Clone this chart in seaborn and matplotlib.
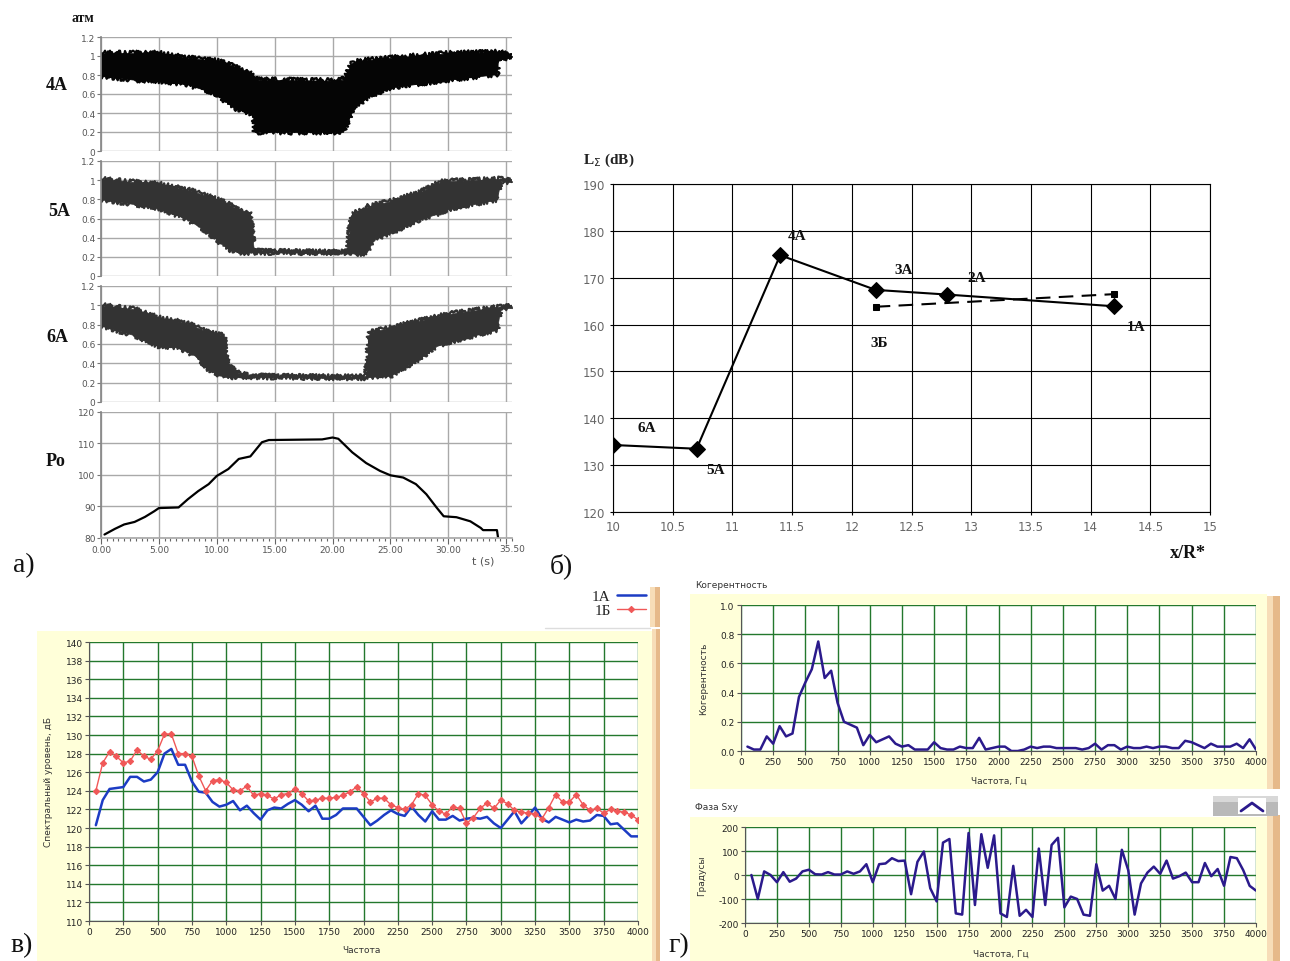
import matplotlib
matplotlib.use("Agg")
import matplotlib.pyplot as plt
from matplotlib.patches import Rectangle
from matplotlib.lines import Line2D
from matplotlib.ticker import MultipleLocator, FixedLocator, FuncFormatter
import pandas as pd
import seaborn as sns

W, H = 1290, 962

# ---------------- panel а: pressure envelopes and Po ----------------
t_4a = [0, 2.9, 5, 7.5, 10, 11.3, 11.6, 12.8, 13.2, 13.3, 13.6, 20.3, 20.9, 21.2, 21.7, 22, 23.2, 25, 30, 34.2, 34.3, 35.2, 35.5]
up_4a = [1.03, 1.03, 1.03, 0.98, 0.95, 0.90, 0.89, 0.82, 0.79, 0.78, 0.75, 0.74, 0.75, 0.80, 0.93, 0.94, 0.96, 0.98, 1.03, 1.04, 1.04, 1.02, 1.00]
lo_4a = [0.79, 0.75, 0.74, 0.70, 0.60, 0.47, 0.45, 0.40, 0.38, 0.20, 0.20, 0.20, 0.20, 0.28, 0.42, 0.47, 0.58, 0.67, 0.75, 0.81, 0.98, 0.98, 0.99]

t_5a = [0, 2.9, 5, 7.5, 9.3, 10, 11, 11.6, 12.2, 12.9, 13.2, 21.3, 21.6, 22, 22.9, 23.2, 23.5, 25, 27.5, 29.3, 30, 34.2, 34.5, 35.5]
up_5a = [1.01, 0.98, 0.96, 0.90, 0.83, 0.80, 0.75, 0.71, 0.68, 0.64, 0.26, 0.25, 0.63, 0.66, 0.72, 0.73, 0.74, 0.78, 0.87, 0.98, 0.99, 1.01, 1.02, 0.99]
lo_5a = [0.80, 0.75, 0.71, 0.59, 0.45, 0.38, 0.28, 0.26, 0.24, 0.245, 0.245, 0.245, 0.24, 0.23, 0.24, 0.30, 0.38, 0.45, 0.59, 0.66, 0.70, 0.80, 0.99, 0.98]

t_6a = [0, 2.9, 5, 6.4, 7.5, 8.1, 9.3, 10.4, 10.6, 10.9, 11.6, 12.8, 21.7, 22.9, 23.2, 25, 27.5, 29, 30, 34.2, 34.5, 35.5]
up_6a = [1.00, 0.96, 0.87, 0.84, 0.81, 0.78, 0.72, 0.69, 0.69, 0.41, 0.31, 0.27, 0.26, 0.27, 0.72, 0.77, 0.84, 0.88, 0.91, 0.98, 0.99, 0.99]
lo_6a = [0.79, 0.69, 0.58, 0.57, 0.52, 0.48, 0.34, 0.27, 0.26, 0.26, 0.26, 0.26, 0.25, 0.25, 0.26, 0.27, 0.45, 0.58, 0.62, 0.75, 0.98, 0.97]

po_t = [0.3, 1.2, 2, 2.9, 3.8, 4.6, 5, 6.7, 7.5, 8.4, 9.3, 10, 11, 11.9, 12.9, 13.9, 14.5, 19.1, 20, 20.5, 21.7, 22.9, 24.1, 25, 26.1, 27.2, 28.1, 29, 29.6, 30.7, 31.9, 32.8, 33, 34.2, 34.3]
po_val = [81.1, 82.9, 84.3, 85.1, 86.7, 88.5, 89.5, 89.7, 92.3, 94.9, 97.1, 99.7, 101.9, 105.1, 105.9, 110.4, 111.1, 111.3, 111.9, 111.5, 107.2, 103.8, 101.3, 99.9, 99.2, 97.1, 93.9, 89.6, 86.9, 86.6, 85.3, 83.2, 82.5, 82.5, 80.0]

# ---------------- panel б: overall level vs distance ----------------
pts_a_names = ["6A", "5A", "4A", "3A", "2A", "1A"]
pts_a_x = [10.0, 10.7, 11.4, 12.2, 12.8, 14.2]
pts_a_level = [134.3, 133.5, 174.8, 167.4, 166.4, 163.9]
pts_b_names = ["3Б", "1Б"]
pts_b_x = [12.2, 14.2]
pts_b_level = [163.8, 166.5]

# ---------------- panel в: spectra 1A / 1Б ----------------
freq = list(range(50, 4001, 50))
spec_1a = [120.3, 123.0, 124.2, 124.3, 124.4, 125.5, 125.5, 125.0, 125.2, 126.0,
           128.0, 128.5, 126.8, 126.8, 125.0, 123.9, 123.8, 122.8, 122.3, 122.5,
           122.9, 121.9, 122.4, 121.6, 120.9, 121.9, 122.2, 122.1, 122.6, 123.0,
           122.5, 121.8, 122.4, 121.0, 121.0, 121.4, 122.1, 122.1, 122.1, 121.2,
           120.3, 120.8, 121.4, 121.9, 121.5, 121.3, 122.3, 121.4, 120.7, 121.8,
           120.9, 120.9, 121.3, 120.8, 121.0, 121.1, 121.0, 121.2, 120.5, 120.0,
           120.9, 121.8, 120.5, 121.3, 122.2, 121.0, 120.6, 121.2, 120.9, 120.6,
           120.9, 120.7, 120.8, 121.4, 121.3, 120.4, 120.5, 119.8, 119.1, 119.1]
spec_1b = [124.0, 127.0, 128.2, 127.7, 127.0, 127.2, 128.4, 127.7, 127.4, 128.3,
           130.1, 130.1, 128.0, 128.0, 127.7, 125.6, 124.0, 125.1, 125.2, 124.9,
           124.1, 124.0, 124.5, 123.5, 123.7, 123.5, 123.1, 123.6, 123.7, 124.2,
           123.7, 122.9, 123.0, 123.2, 123.2, 123.3, 123.5, 123.9, 124.4, 123.7,
           122.8, 123.2, 123.2, 122.5, 122.2, 122.0, 122.5, 123.7, 123.5, 122.5,
           121.8, 121.5, 122.3, 122.1, 120.5, 121.1, 122.1, 122.7, 122.1, 123.0,
           122.6, 121.9, 121.7, 121.6, 121.5, 121.0, 122.2, 123.6, 122.8, 122.8,
           123.6, 122.5, 121.9, 122.1, 121.6, 122.0, 121.8, 121.7, 121.4, 120.9]

# ---------------- panel г: coherence and phase ----------------
coherence = [0.03, 0.01, 0.01, 0.10, 0.05, 0.17, 0.10, 0.12, 0.37, 0.47,
             0.56, 0.75, 0.50, 0.55, 0.33, 0.20, 0.18, 0.16, 0.04, 0.11,
             0.06, 0.08, 0.10, 0.05, 0.03, 0.04, 0.01, 0.01, 0.01, 0.06,
             0.02, 0.01, 0.01, 0.03, 0.02, 0.02, 0.09, 0.01, 0.02, 0.03,
             0.03, 0.00, 0.00, 0.01, 0.03, 0.02, 0.03, 0.03, 0.02, 0.02,
             0.02, 0.02, 0.01, 0.02, 0.05, 0.01, 0.04, 0.04, 0.01, 0.03,
             0.02, 0.02, 0.03, 0.02, 0.03, 0.03, 0.02, 0.02, 0.07, 0.06,
             0.04, 0.02, 0.05, 0.03, 0.03, 0.03, 0.05, 0.02, 0.08, 0.01]
phase = [0, -100, 15, 0, -30, 12, -28, -15, 15, 22,
         3, 2, 12, 2, 2, 15, 5, 15, 45, -30,
         45, 48, 70, 58, 60, -80, 55, 98, -55, -110,
         135, 150, -160, -165, 175, -125, 170, 30, 165, -160,
         -175, 38, -170, -145, -175, 110, -125, 125, 155, -135,
         -90, -100, -165, -170, 45, -65, -45, -100, 105, 20,
         -165, -35, 10, 35, 5, 60, -15, -5, 10, -30,
         -30, 50, -5, 25, -45, 75, 70, 20, -45, -65]

spec_df = pd.DataFrame({"f": freq, "1A": spec_1a, "1Б": spec_1b,
                        "coh": coherence, "phase": phase})

sns.set_theme(style="white")
plt.rcParams["font.family"] = ["DejaVu Sans"]
plt.rcParams["axes.unicode_minus"] = False

fig = plt.figure(figsize=(W / 100, H / 100), dpi=100)
fig.patch.set_facecolor("white")

SERIF = ["Liberation Serif", "DejaVu Serif"]


def px_axes(x0, y0, x1, y1):
    return fig.add_axes([x0 / W, 1 - y1 / H, (x1 - x0) / W, (y1 - y0) / H])


def px_text(x, y, s, **kw):
    return fig.text(x / W, 1 - y / H, s, **kw)


def px_rect(x0, y0, x1, y1, color, z=-5, **kw):
    fig.add_artist(Rectangle((x0 / W, 1 - y1 / H), (x1 - x0) / W, (y1 - y0) / H,
                             transform=fig.transFigure, facecolor=color,
                             edgecolor="none", zorder=z, **kw))


def px_line(xs, ys, **kw):
    fig.add_artist(Line2D([x / W for x in xs], [1 - y / H for y in ys],
                          transform=fig.transFigure, **kw))


# ======== panel а ========
GRID_A = "#a9a9a9"
band_rows = [((38, 152), t_4a, up_4a, lo_4a, "#050505"),
             ((162, 277), t_5a, up_5a, lo_5a, "#333333"),
             ((287, 403), t_6a, up_6a, lo_6a, "#333333")]
for (y0, y1), tt, up, lo, col in band_rows:
    ax = px_axes(101, y0, 512, y1)
    ax.fill_between(tt, lo, up, color=col, lw=0.5, edgecolor=col)
    # ragged edges of the densely sampled pressure trace
    n0 = len(ax.lines)
    sns.lineplot(x=tt, y=up, color=col, lw=1.6, ax=ax)
    sns.lineplot(x=tt, y=lo, color=col, lw=1.6, ax=ax)
    for ln in ax.lines[n0:]:
        ln.set_sketch_params(scale=2.5, length=1.2, randomness=4.0)
    ax.set_xlim(0, 35.5)
    ax.set_ylim(0, 1.2)
    ax.set_yticks([0, 0.2, 0.4, 0.6, 0.8, 1.0, 1.2])
    ax.set_yticklabels(["0", "0.2", "0.4", "0.6", "0.8", "1", "1.2"])
    ax.set_xticks(range(0, 36, 5))
    ax.tick_params(axis="x", length=0, labelbottom=False)
    ax.tick_params(axis="y", length=3, width=0.8, color="#777777", labelsize=6.5,
                   labelcolor="#555555", pad=1, left=True)
    ax.grid(True, color=GRID_A, lw=1)
    for s in ["top", "right", "bottom"]:
        ax.spines[s].set_visible(False)
    ax.spines["left"].set_color("#888888")
    ax.set_facecolor("white")
    ax.set_xlabel("")
    ax.set_ylabel("")

axp = px_axes(101, 413, 512, 539)
sns.lineplot(x=po_t, y=po_val, color="black", lw=1.6, ax=axp)
axp.set_xlim(0, 35.5)
axp.set_ylim(80, 120)
axp.set_yticks([80, 90, 100, 110, 120])
axp.xaxis.set_major_locator(FixedLocator(list(range(0, 36, 5))))
axp.xaxis.set_major_formatter(FuncFormatter(lambda v, p: "" if v > 34 else f"{v:.2f}"))
axp.xaxis.set_minor_locator(MultipleLocator(0.5))
axp.tick_params(axis="x", which="major", length=4, width=0.8, color="#666666",
                labelsize=6.5, labelcolor="#555555", pad=1, bottom=True)
axp.tick_params(axis="x", which="minor", length=2.5, width=0.8, color="#666666", bottom=True)
axp.tick_params(axis="y", length=3, width=0.8, color="#777777", labelsize=6.5,
                labelcolor="#555555", pad=1, left=True)
axp.grid(True, which="major", color=GRID_A, lw=1)
for s in ["top", "right"]:
    axp.spines[s].set_visible(False)
axp.spines["left"].set_color("#888888")
axp.spines["bottom"].set_color("#aaaaaa")
axp.set_xlabel("")
axp.set_ylabel("")
axp.text(35.5, -0.045, "35.50", transform=axp.get_xaxis_transform(), ha="center",
         va="top", fontsize=6.5, color="#555555")
px_text(483, 562, "t (s)", ha="center", va="center", fontsize=8, color="#555555")

for (x, y, s) in [(83, 18, "атм"), (57, 86, "4A"), (59, 211, "5A"),
                  (57, 337, "6A"), (56, 462, "Po")]:
    px_text(x, y, s, ha="center", va="center", fontsize=13 if s != "атм" else 10,
            fontweight="bold", family=SERIF, color="#111111")

# ======== panel б ========
axb = px_axes(613, 185, 1210, 513)
sns.lineplot(x=pts_a_x, y=pts_a_level, color="black", lw=1.5, marker="D",
             markersize=8, markeredgecolor="black", ax=axb)
sns.lineplot(x=pts_b_x, y=pts_b_level, color="black", lw=1.5, marker="s",
             markersize=5, markeredgecolor="black", linestyle=(0, (7, 4)), ax=axb)
axb.set_xlim(10, 15)
axb.set_ylim(120, 190)
axb.set_xticks([10, 10.5, 11, 11.5, 12, 12.5, 13, 13.5, 14, 14.5, 15])
axb.set_xticklabels(["10", "10.5", "11", "11.5", "12", "12.5", "13", "13.5", "14", "14.5", "15"])
axb.set_yticks(range(120, 191, 10))
axb.grid(True, color="black", lw=0.8)
for s in axb.spines.values():
    s.set_color("black")
    s.set_linewidth(0.8)
axb.tick_params(axis="both", length=2, width=0.8, color="black", labelsize=8.5,
                labelcolor="#666666", pad=4, left=True, bottom=True)
axb.set_facecolor("white")
axb.set_xlabel("")
axb.set_ylabel("")
label_offsets = {"6A": (34, 17), "5A": (19, -21), "4A": (17, 20), "3A": (28, 20),
                 "2A": (29, 17), "1A": (22, -20), "3Б": (4, -36), "1Б": None}
for names, xs, ys in [(pts_a_names, pts_a_x, pts_a_level), (pts_b_names, pts_b_x, pts_b_level)]:
    for n, x, y in zip(names, xs, ys):
        off = label_offsets.get(n)
        if off is None:
            continue
        axb.annotate(n, (x, y), xytext=off, textcoords="offset pixels", ha="center",
                     va="center", fontsize=11, fontweight="bold", family=SERIF,
                     color="#111111")
px_text(583, 160, r"L$_\Sigma$ (dB)", ha="left", va="center", fontsize=11,
        fontweight="bold", family=SERIF, color="#222222")
px_text(1188, 553, "x/R*", ha="center", va="center", fontsize=13,
        fontweight="bold", family=SERIF, color="#111111")

# ======== frames of the LabVIEW-style graphs ========
YEL = "#FFFFD9"
TAN1, TAN2 = "#F7DDB8", "#E6B98A"
# spectrum frame
px_rect(37, 632, 652, 962, YEL)
px_rect(652, 630, 656, 962, TAN1)
px_rect(656, 630, 660, 962, TAN2)
px_rect(650, 588, 655, 628, TAN1)
px_rect(655, 588, 660, 628, TAN2)
px_line([545, 650], [628.5, 628.5], color="#dddddd", lw=1, zorder=-4)
# coherence frame
px_rect(690, 595, 1267, 790, YEL)
px_rect(1267, 597, 1273, 790, TAN1)
px_rect(1273, 597, 1280, 790, TAN2)
# phase frame
px_rect(690, 818, 1267, 962, YEL)
px_rect(1267, 816, 1273, 962, TAN1)
px_rect(1273, 816, 1280, 962, TAN2)
px_rect(1213, 797, 1278, 817, "#b9b9b9")
px_rect(1213, 797, 1278, 803, "#d8d8d8", z=-4)
px_rect(1238, 799, 1266, 815, "white", z=-3)
px_line([1241, 1252, 1263], [812, 804, 812], color="#2b1a8c", lw=2, zorder=3)

GREEN = "#23782d"
LAB = dict(fontsize=6.5, color="#333333")


def style_lab(ax):
    ax.set_facecolor("white")
    ax.grid(True, color=GREEN, lw=1)
    for s in ["top", "right"]:
        ax.spines[s].set_visible(False)
    for s in ["left", "bottom"]:
        ax.spines[s].set_color("#555555")
        ax.spines[s].set_linewidth(0.8)
    ax.tick_params(axis="both", length=3, width=0.8, color="#555555", labelsize=6.5,
                   labelcolor="#222222", pad=1.5, left=True, bottom=True)
    ax.set_xlim(0, 4000)
    ax.set_xticks(range(0, 4001, 250))


# ======== panel в ========
axs = px_axes(89, 643, 638, 922)
sns.lineplot(data=spec_df, x="f", y="1A", color="#1c3cc4", lw=1.8, label="1A", ax=axs)
sns.lineplot(data=spec_df, x="f", y="1Б", color="#f05858", lw=1.0, marker="D",
             markersize=3.2, markeredgecolor="#f05858", label="1Б", ax=axs)
style_lab(axs)
axs.set_ylim(110, 140)
axs.set_yticks(range(110, 141, 2))
axs.set_xlabel("Частота", **LAB)
axs.xaxis.set_label_coords(0.497, -0.085)
axs.set_ylabel("Спектральный уровень, дБ", **LAB)
axs.yaxis.set_label_coords(-0.065, 0.5)
leg = axs.legend(loc="upper right", bbox_to_anchor=(648 / W, 1 - 588 / H),
                 bbox_transform=fig.transFigure, markerfirst=False, frameon=True,
                 prop={"family": SERIF, "size": 11}, handlelength=1.9,
                 handletextpad=0.4, labelspacing=0.05, borderpad=0.15,
                 borderaxespad=0)
leg.get_frame().set_facecolor("white")
leg.get_frame().set_edgecolor("white")

# ======== panel г (coherence) ========
axc = px_axes(741, 606, 1256, 752)
sns.lineplot(data=spec_df, x="f", y="coh", color="#2b1a8c", lw=1.8, ax=axc)
style_lab(axc)
axc.set_ylim(0, 1.0)
axc.set_yticks([0, 0.2, 0.4, 0.6, 0.8, 1.0])
axc.yaxis.set_major_formatter(FuncFormatter(lambda v, p: f"{v:.1f}"))
axc.set_xlabel("Частота, Гц", **LAB)
axc.xaxis.set_label_coords(0.5, -0.17)
axc.set_ylabel("Когерентность", **LAB)
axc.yaxis.set_label_coords(-0.064, 0.5)
px_text(695, 585, "Когерентность", ha="left", va="center", **LAB)

# ======== panel г (phase) ========
axf = px_axes(745, 828, 1256, 924)
sns.lineplot(data=spec_df, x="f", y="phase", color="#2b1a8c", lw=1.8, ax=axf)
style_lab(axf)
axf.set_ylim(-200, 200)
axf.set_yticks([-200, -100, 0, 100, 200])
axf.set_xlabel("Частота, Гц", **LAB)
axf.xaxis.set_label_coords(0.5, -0.27)
axf.set_ylabel("Градусы", **LAB)
axf.yaxis.set_label_coords(-0.076, 0.5)
px_text(695, 808, "Фаза Sxy", ha="left", va="center", **LAB)

# ======== panel letters ========
for (x, y, s) in [(24, 566, "а)"), (561, 566, "б)"), (22, 946, "в)"), (679, 946, "г)")]:
    px_text(x, y, s, ha="center", va="center", fontsize=20, family=SERIF, color="#111111")

fig.savefig("out.png", dpi=100)
